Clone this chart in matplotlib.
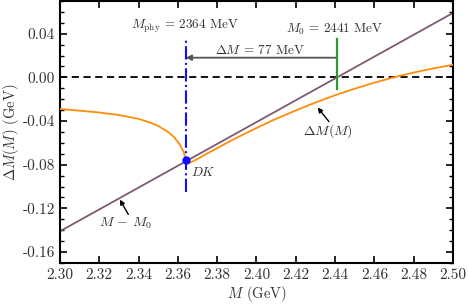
import matplotlib
matplotlib.use("Agg")
import matplotlib.pyplot as plt
from matplotlib.ticker import MultipleLocator, FormatStrFormatter

plt.rcParams['font.family'] = 'serif'
plt.rcParams['font.serif'] = ['cmr10', 'DejaVu Serif']
plt.rcParams['mathtext.fontset'] = 'cm'
plt.rcParams['axes.unicode_minus'] = False
plt.rcParams['axes.formatter.use_mathtext'] = True

# straight line M - M0 (GeV)
line_m = [2.30, 2.50]
line_dm = [-0.141, 0.059]

# Delta M(M) below the DK threshold
below_m = [2.300, 2.310, 2.320, 2.330, 2.340, 2.346, 2.350, 2.355, 2.358,
           2.361, 2.363, 2.364]
below_dm = [-0.0290, -0.0305, -0.0322, -0.0345, -0.0380, -0.0415, -0.0445,
            -0.0500, -0.0545, -0.0615, -0.0685, -0.0757]

# Delta M(M) above the DK threshold
above_m = [2.364, 2.3652, 2.370, 2.375, 2.380, 2.390, 2.400, 2.410, 2.420,
           2.430, 2.440, 2.450, 2.460, 2.470, 2.480, 2.490, 2.500]
above_dm = [-0.0757, -0.0790, -0.0748, -0.0697, -0.0648, -0.0553, -0.0464,
            -0.0380, -0.0303, -0.0231, -0.0164, -0.0104, -0.0049, 0.0001,
            0.0044, 0.0082, 0.0115]

m_phy = 2.364
dm_phy = -0.0757
m_0 = 2.441

fig = plt.figure(figsize=(4.68, 3.04), dpi=100)
ax = fig.add_axes([0.128, 0.135, 0.840, 0.862])

ax.axhline(0.0, color='black', lw=1.3, dashes=(4, 2.5), zorder=1)
ax.plot(line_m, line_dm, color='#7d5a73', lw=1.3, zorder=2)
ax.plot(below_m, below_dm, color='#ff8c0a', lw=1.3, zorder=3)
ax.plot(above_m, above_dm, color='#ff8c0a', lw=1.3, zorder=3)

ax.plot([m_phy, m_phy], [-0.105, 0.0355], color='#1010ff', lw=1.5,
        linestyle='-.', zorder=4)
ax.plot([m_0, m_0], [-0.0103, 0.035], color='#2e9a2e', lw=1.6, zorder=4)
ax.plot([m_phy], [dm_phy], 'o', color='#1010ff', ms=5, zorder=5)

ax.annotate('', xy=(m_phy, 0.018), xytext=(m_0, 0.018),
            arrowprops=dict(arrowstyle='-|>', color='#555555', lw=1.3,
                            shrinkA=0, shrinkB=0, mutation_scale=8))

ax.text(2.3637, 0.047, r'$M_{\rm phy}\,=\,2364$ MeV', ha='center',
        va='center', fontsize=9.5, color='#333333')
ax.text(2.440, 0.0436, r'$M_0\,=\,2441$ MeV', ha='center', va='center',
        fontsize=9.5, color='#333333')
ax.text(2.4018, 0.025, r'$\Delta M\,=\,77$ MeV', ha='center', va='center',
        fontsize=9.5, color='#333333')
ax.text(2.3668, -0.087, r'$DK$', ha='left', va='center', fontsize=9.5,
        color='#333333')

ax.text(2.4366, -0.0497, r'$\Delta M(M)$', ha='center', va='center',
        fontsize=10, color='#333333')
ax.annotate('', xy=(2.4311, -0.0276), xytext=(2.4369, -0.0406),
            arrowprops=dict(arrowstyle='-|>', color='black', lw=1.0,
                            shrinkA=0, shrinkB=0, mutation_scale=7))
ax.text(2.3336, -0.1336, r'$M\,-\,M_0$', ha='center', va='center',
        fontsize=10, color='#333333')
ax.annotate('', xy=(2.3305, -0.112), xytext=(2.3348, -0.1255),
            arrowprops=dict(arrowstyle='-|>', color='black', lw=1.0,
                            shrinkA=0, shrinkB=0, mutation_scale=7))

ax.set_xlim(2.30, 2.50)
ax.set_ylim(-0.17, 0.07)
ax.xaxis.set_major_locator(MultipleLocator(0.02))
ax.yaxis.set_major_locator(MultipleLocator(0.04))
ax.yaxis.set_minor_locator(MultipleLocator(0.01))
ax.xaxis.set_major_formatter(FormatStrFormatter('%.2f'))
ax.yaxis.set_major_formatter(FormatStrFormatter('%.2f'))
ax.tick_params(which='both', direction='in', top=True, right=True,
               labelsize=11, colors='black', labelcolor='#333333')
ax.tick_params(which='major', length=5, width=1.2)
ax.tick_params(which='minor', length=3, width=1.0)
for s in ax.spines.values():
    s.set_linewidth(1.5)

ax.set_xlabel(r'$M$ (GeV)', fontsize=10.5, color='#333333', labelpad=2)
ax.set_ylabel(r'$\Delta M(M)$ (GeV)', fontsize=10.5, color='#333333', labelpad=1)

fig.savefig('out.png', dpi=100)
